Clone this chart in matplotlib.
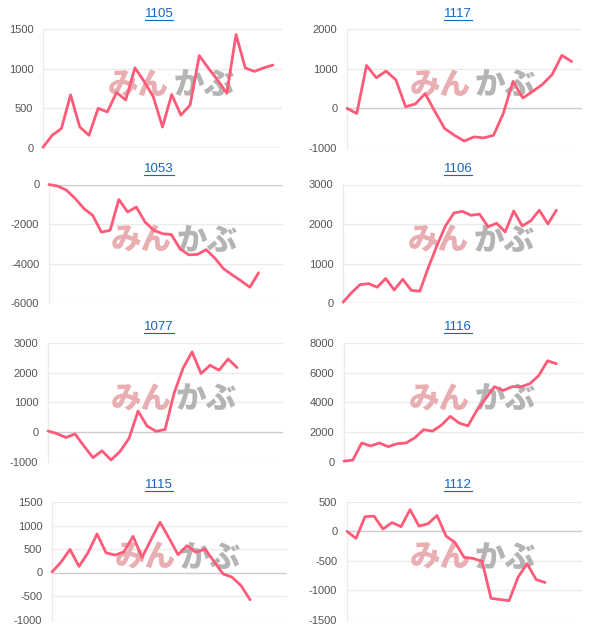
import matplotlib

matplotlib.use("Agg")
import matplotlib.pyplot as plt
import numpy as np
from matplotlib.lines import Line2D

# ---- data ----
TITLES = ["1105", "1117", "1053", "1106", "1077", "1116", "1115", "1112"]

S1105 = [10, 160, 245, 670, 265, 160, 500, 455, 700, 605, 1010, 840, 645, 265,
         675, 415, 540, 1165, 1005, 855, 690, 1430, 1010, 965, 1010, 1045]
S1117 = [0, -130, 1080, 770, 940, 720, 40, 110, 370, -80, -510, -680, -825, -720,
         -745, -680, -130, 680, 260, 425, 600, 850, 1335, 1180]
S1053 = [0, -80, -290, -710, -1220, -1560, -2410, -2320, -760, -1390, -1140, -1900,
         -2320, -2490, -2530, -3250, -3560, -3540, -3300, -3730, -4270, -4580,
         -4880, -5200, -4470]
S1106 = [20, 260, 465, 490, 400, 620, 330, 600, 320, 300, 900, 1450, 1950, 2280,
         2320, 2220, 2250, 1930, 2020, 1800, 2330, 1950, 2080, 2350, 2000, 2350]
S1077 = [30, -60, -190, -70, -480, -870, -640, -950, -660, -220, 700, 200, 20, 80,
         1300, 2150, 2700, 1970, 2250, 2080, 2460, 2170]
S1116 = [20, 100, 1250, 1050, 1250, 1000, 1200, 1250, 1600, 2150, 2050, 2450, 3050,
         2600, 2400, 3450, 4250, 5050, 4800, 5050, 5050, 5250, 5800, 6800, 6600]
S1115 = [10, 220, 490, 130, 420, 820, 420, 370, 440, 770, 320, 700, 1070, 730, 380,
         570, 430, 500, 230, -30, -100, -280, -580]
S1112 = [0, -120, 250, 260, 40, 150, 80, 370, 90, 130, 270, -80, -190, -440, -460,
         -510, -1140, -1160, -1180, -780, -550, -820, -870]

SERIES = [S1105, S1117, S1053, S1106, S1077, S1116, S1115, S1112]
Y_RANGES = [(0, 1500, 500), (-1000, 2000, 1000), (-6000, 0, 2000), (0, 3000, 1000),
            (-1000, 3000, 1000), (0, 8000, 2000), (-1000, 1500, 500), (-1500, 500, 500)]

# ---- layout (pixels of a 600x632 canvas) ----
W, H = 600, 632
LEFTS = [43, 347, 49, 343, 48, 344, 52, 347]
RIGHTS = [282, 582, 283, 582, 283, 583, 287, 582]
ROW_TOP = [29, 184.5, 343, 502]
ROW_BOT = [148, 303, 461.5, 619.5]
TITLE_X = [159, 458]
TITLE_Y = [14, 169.5, 327, 485.5]
X_SPAN = [26, 24.06, 26.8, 28.0, 26.1, 27.0, 26.1, 26.1]

LINE = "#ff5a78"
GRID = "#ebebeb"
ZERO = "#cccccc"
TICK = "#555555"
LINK = "#1565c0"

plt.rcParams["font.family"] = ["Liberation Sans", "DejaVu Sans"]


def draw_panel(ax, values, yr, xspan):
    ymin, ymax, step = yr
    ticks = np.arange(ymin, ymax + step, step)
    for t in ticks:
        ax.axhline(t, color=ZERO if t == 0 else GRID, lw=1, zorder=1)
    ax.plot(np.arange(len(values)), values, color=LINE, lw=2.0, zorder=3,
            clip_on=False, solid_joinstyle="round", solid_capstyle="round")
    ax.set_xlim(0, xspan)
    ax.set_ylim(ymin, ymax)
    ax.set_xticks([])
    ax.set_yticks(ticks)
    ax.set_yticklabels([str(int(t)) for t in ticks])
    ax.tick_params(axis="y", length=0, pad=7, labelsize=8, labelcolor=TICK)
    for side in ("top", "right", "bottom"):
        ax.spines[side].set_visible(False)
    ax.spines["left"].set_color(GRID)
    ax.spines["left"].set_linewidth(1)
    ax.patch.set_alpha(0)
    # watermark logo
    wm = dict(fontsize=22, fontweight="heavy", va="center", zorder=2,
              family=["Noto Sans CJK JP", "DejaVu Sans"], transform=ax.transAxes)
    ax.text(0.525, 0.53, "みん", ha="right", color="#e9aeb2", **wm)
    ax.text(0.545, 0.53, "かぶ", ha="left", color="#b4b4b4", **wm)


fig = plt.figure(figsize=(W / 100, H / 100), dpi=100)
titles = []
for i, (vals, yr) in enumerate(zip(SERIES, Y_RANGES)):
    row, col = divmod(i, 2)
    l, r = LEFTS[i], RIGHTS[i]
    t, b = ROW_TOP[row], ROW_BOT[row]
    ax = fig.add_axes([l / W, (H - b) / H, (r - l) / W, (b - t) / H])
    draw_panel(ax, vals, yr, X_SPAN[i])
    titles.append(fig.text(TITLE_X[col] / W, (H - TITLE_Y[row]) / H, TITLES[i],
                           ha="center", va="center", fontsize=9.5, color=LINK))

# underline the titles (they are links in the original)
renderer = fig.canvas.get_renderer()
for txt in titles:
    bb = txt.get_window_extent(renderer)
    y = (bb.y0 + 0.5) / H
    fig.add_artist(Line2D([bb.x0 / W, bb.x1 / W], [y, y], color=LINK, lw=0.8))

fig.savefig("out.png", dpi=100)
